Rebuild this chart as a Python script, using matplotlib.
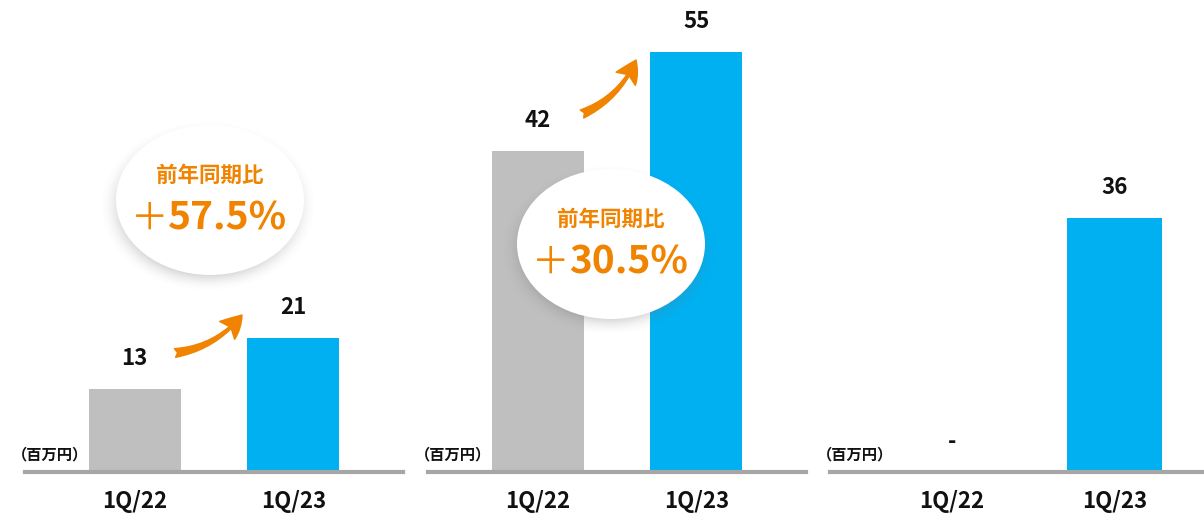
import numpy as np
import matplotlib.pyplot as plt
from matplotlib.patches import Ellipse, FancyArrowPatch

plt.rcParams['font.family'] = ['Noto Sans CJK JP', 'DejaVu Sans']

W, H = 1204, 518

periods = ['1Q/22', '1Q/23']
values_left = [13, 21]
values_mid = [42, 55]
values_right = [None, 36]   # no figure for 1Q/22, shown as "-"
yoy_left = 57.5
yoy_mid = 30.5
unit_label = '（百万円）'
yoy_label = '前年同期比'

GRAY = '#BFBFBF'
BLUE = '#00B0F0'
ORANGE = '#F08300'
AXIS = '#A6A6A6'

BASE = 472  # baseline, pixels from top

# each panel: values, left/right edge in px, y top, x limits
panels = [
    (values_left, 25, 403, 74.0, (-0.69, 1.69)),
    (values_mid, 428, 806, 61.8, (-0.69, 1.69)),
    (values_right, 830, 1204, 66.9, (-0.75, 1.55)),
]

fig = plt.figure(figsize=(W / 100, H / 100), dpi=100)

for vals, x0, x1, ytop, xlim in panels:
    ax = fig.add_axes([x0 / W, (H - BASE) / H, (x1 - x0) / W, BASE / H])
    x = np.arange(len(periods))
    heights = [0 if v is None else v for v in vals]
    ax.bar(x, heights, width=0.58, color=[GRAY, BLUE], zorder=2)
    for xi, v in zip(x, vals):
        ax.annotate('-' if v is None else f'{v}', (xi, 0 if v is None else v),
                    xytext=(0, 22), textcoords='offset points',
                    ha='center', va='center', fontsize=16, fontweight='bold',
                    color='#111111')
    ax.set_xlim(*xlim)
    ax.set_ylim(0, ytop)
    ax.set_xticks(x)
    ax.set_xticklabels(periods, fontsize=16, fontweight='bold', color='#111111')
    ax.tick_params(axis='x', length=0, pad=13)
    ax.set_yticks([])
    for s in ['top', 'left', 'right']:
        ax.spines[s].set_visible(False)
    ax.spines['bottom'].set_color(AXIS)
    ax.spines['bottom'].set_linewidth(3)
    ax.spines['bottom'].set_zorder(3)
    ax.patch.set_alpha(0)
    ax.text(-13 / (x1 - x0), 18 / BASE, unit_label, transform=ax.transAxes,
            ha='left', va='center', fontsize=11, fontweight='bold', color='#111111')

# overlay for bubbles and arrows (pixel coordinates)
ov = fig.add_axes([0, 0, 1, 1], zorder=5)
ov.patch.set_alpha(0)
ov.axis('off')

bubbles = [(210, 200, yoy_left), (611, 244, yoy_mid)]

yy, xx = np.mgrid[0:H, 0:W] + 0.5
alpha = np.zeros((H, W))
for cx, cy, _ in bubbles:
    r = np.hypot((xx - cx + 2) / 95, (yy - cy - 6) / 75)
    a = np.clip((1.15 - r) / 0.25, 0, 1)
    alpha = np.maximum(alpha, 0.32 * a ** 2)
shadow = np.zeros((H, W, 4))
shadow[..., :3] = 0.45
shadow[..., 3] = alpha
ov.imshow(shadow, extent=(0, W, H, 0), aspect='auto', zorder=1, interpolation='bilinear')
ov.set_xlim(0, W)
ov.set_ylim(H, 0)

for cx, cy, g in bubbles:
    ov.add_patch(Ellipse((cx, cy), 188, 150, facecolor='white', edgecolor='none', zorder=2))
    ov.text(cx, cy - 25, yoy_label, color=ORANGE, fontsize=15.5, fontweight='bold',
            ha='center', va='center', zorder=3)
    ov.text(cx - 60, cy + 30, '＋', color=ORANGE, fontsize=27, fontweight='normal',
            ha='center', va='baseline', zorder=3)
    ov.text(cx - 42, cy + 30, f'{g:.1f}%', color=ORANGE, fontsize=28, fontweight='bold',
            ha='left', va='baseline', zorder=3)

arrows = [((175, 353), (242, 315)), ((582, 114), (636, 60))]
for a_from, a_to in arrows:
    ov.add_patch(FancyArrowPatch(a_from, a_to, connectionstyle='arc3,rad=0.2',
                                 arrowstyle='fancy,head_length=1.1,head_width=1.2,tail_width=0.45',
                                 mutation_scale=14, color=ORANGE, shrinkA=0, shrinkB=0, zorder=4))

fig.savefig('out.png', dpi=100)
